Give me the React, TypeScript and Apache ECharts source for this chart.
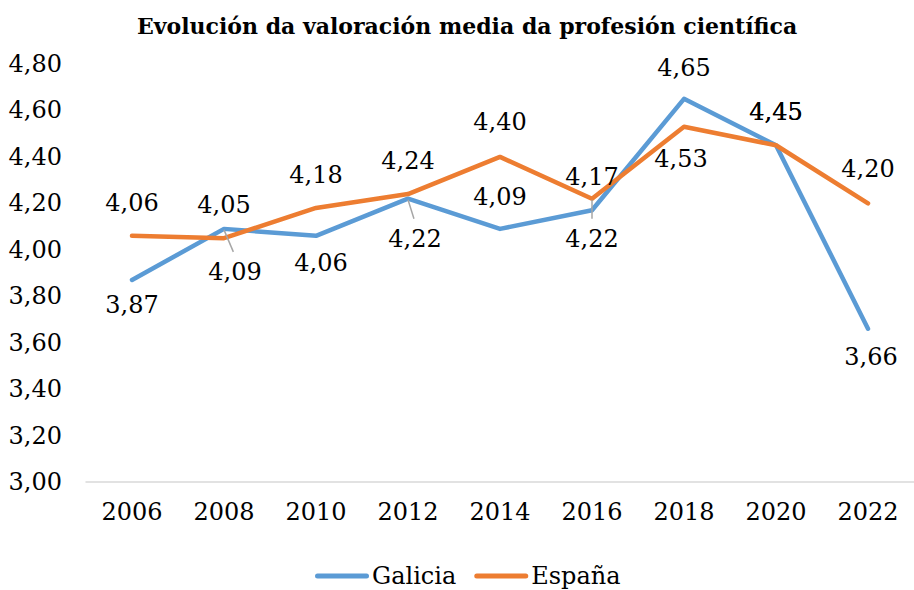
import React, { useEffect, useRef } from "react";
import * as echarts from "echarts";

const titleText = "Evolución da valoración media da profesión científica";
const years = ["2006", "2008", "2010", "2012", "2014", "2016", "2018", "2020", "2022"];
const galicia = [3.87, 4.09, 4.06, 4.22, 4.09, 4.17, 4.65, 4.45, 3.66];
const espana = [4.06, 4.05, 4.18, 4.24, 4.4, 4.22, 4.53, 4.45, 4.2];
const seriesNames = ["Galicia", "España"];

// label layout (offsets from the point, in px) and leader-line flags
const galiciaLabelOffsets = [[0, 25], [11, 43], [5, 27], [7, 40], [0, -32], [0, -33], [0, -31], [0, -33], [3, 28]];
const espanaLabelOffsets = [[0, -33], [0, -33], [0, -33], [0, -33], [0, -35], [0, 40], [-3, 32], [0, -33], [0, -34]];
const galiciaLeader = [false, true, false, true, false, false, false, false, false];
const espanaLeader = [false, false, false, false, false, true, false, false, false];

const FONT = "'DejaVu Serif', serif";
const fmt = (v: number) => v.toFixed(2).replace(".", ",");

function buildData(values: number[], offsets: number[][]) {
  return values.map((v, i) => ({
    value: v,
    label: { offset: offsets[i] },
  }));
}

export default function App() {
  const ref = useRef<HTMLDivElement>(null);
  useEffect(() => {
    document.body.style.margin = "0";
    if (!ref.current) return;
    const chart = echarts.init(ref.current, null, { renderer: "svg" });
    const labelCommon = {
      show: true,
      position: "inside",
      fontFamily: FONT,
      fontSize: 24,
      color: "#000",
      formatter: (p: any) => fmt(p.value),
    };
    chart.setOption({
      animation: false,
      title: {
        text: titleText,
        left: 132,
        top: 10,
        textStyle: { fontFamily: FONT, fontWeight: "bold", fontSize: 22, color: "#000" },
      },
      legend: {
        data: seriesNames,
        left: 310,
        top: 559,
        itemWidth: 54,
        itemHeight: 5,
        itemGap: 18,
        icon: "path://M2.5,0 L51.5,0 A2.5,2.5 0 0 1 51.5,5 L2.5,5 A2.5,2.5 0 0 1 2.5,0 Z",
        textStyle: { fontFamily: FONT, fontSize: 24, color: "#000", padding: [0, 0, 0, -2] },
      },
      grid: { left: 86, top: 64, width: 839, height: 418, containLabel: false },
      xAxis: {
        type: "category",
        data: years,
        boundaryGap: true,
        axisLine: { lineStyle: { color: "#d9d9d9", width: 1.5 } },
        axisTick: { show: false },
        axisLabel: { fontFamily: FONT, fontSize: 24, color: "#000", margin: 18 },
      },
      yAxis: {
        type: "value",
        min: 3,
        max: 4.8,
        interval: 0.2,
        splitLine: { show: false },
        axisLine: { show: false },
        axisTick: { show: false },
        axisLabel: { fontFamily: FONT, fontSize: 24, color: "#000", margin: 24, formatter: (v: number) => fmt(v) },
      },
      series: [
        {
          name: seriesNames[0],
          type: "line",
          data: buildData(galicia, galiciaLabelOffsets),
          symbol: "circle",
          symbolSize: 0.1,
          showSymbol: true,
          itemStyle: { color: "#5B9BD5" },
          lineStyle: { color: "#5B9BD5", width: 4.5, cap: "round", join: "round" },
          label: labelCommon,
        },
        {
          name: seriesNames[1],
          type: "line",
          data: buildData(espana, espanaLabelOffsets),
          symbol: "circle",
          symbolSize: 0.1,
          showSymbol: true,
          itemStyle: { color: "#ED7D31" },
          lineStyle: { color: "#ED7D31", width: 4.5, cap: "round", join: "round" },
          label: labelCommon,
        },
      ],
    });

    // leader lines from the data point toward the moved label
    const leaders: any[] = [];
    const addLeaders = (seriesIndex: number, values: number[], offsets: number[][], flags: boolean[]) => {
      values.forEach((v, i) => {
        if (!flags[i]) return;
        const p = chart.convertToPixel({ seriesIndex }, [i, v]) as number[];
        const [dx, dy] = offsets[i];
        leaders.push({
          type: "line",
          silent: true,
          z: 10,
          shape: { x1: p[0], y1: p[1] + 1, x2: p[0] + dx * 0.85, y2: p[1] + dy - 20 },
          style: { stroke: "#a6a6a6", lineWidth: 1.5 },
        });
      });
    };
    addLeaders(0, galicia, galiciaLabelOffsets, galiciaLeader);
    addLeaders(1, espana, espanaLabelOffsets, espanaLeader);
    chart.setOption({ graphic: leaders });

    return () => chart.dispose();
  }, []);
  return <div ref={ref} style={{ width: 914, height: 590 }} />;
}
